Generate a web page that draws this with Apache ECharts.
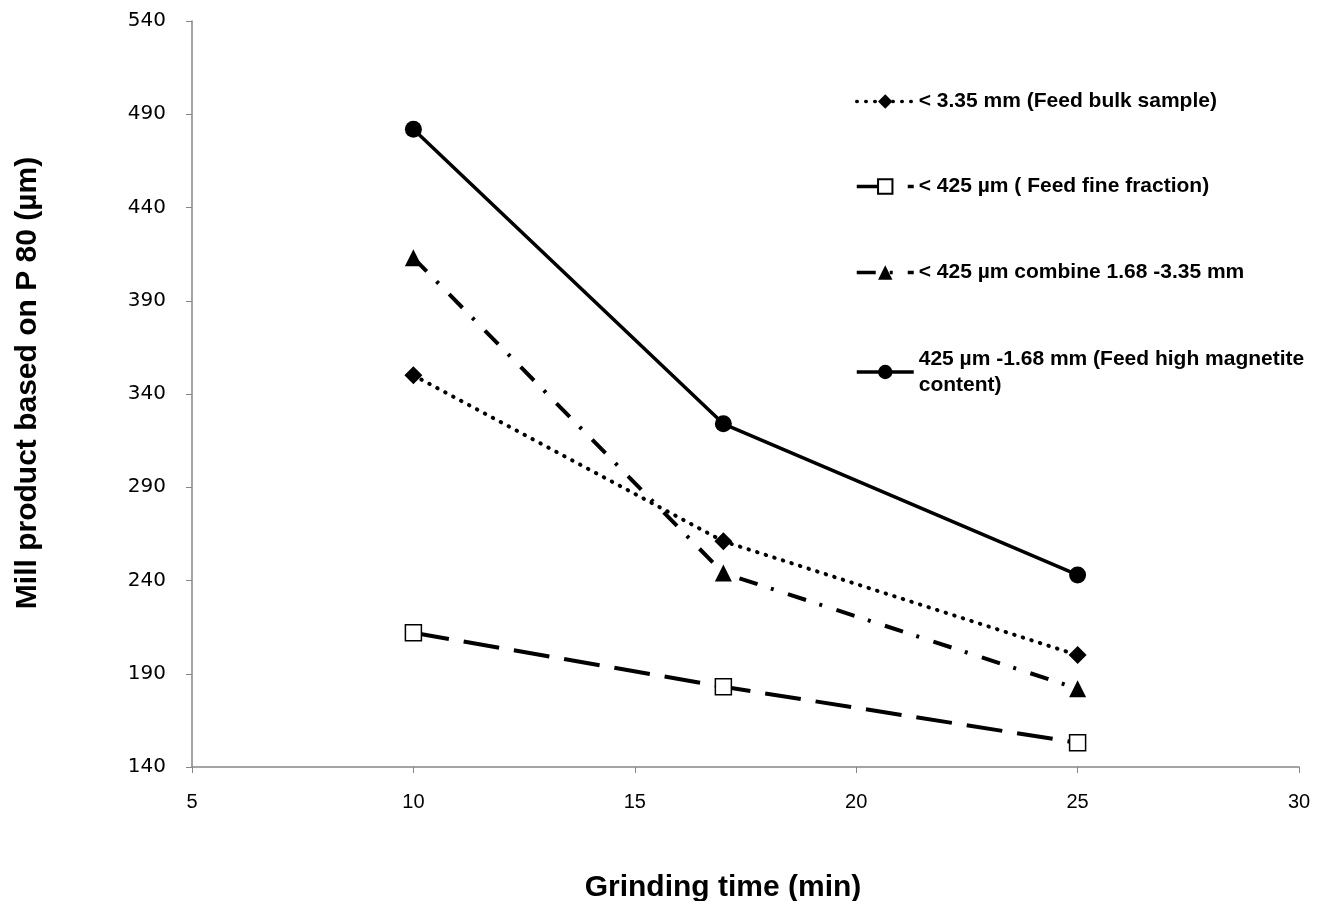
<!DOCTYPE html>
<html>
<head>
<meta charset="utf-8">
<style>
  html, body { margin: 0; padding: 0; background: #fff; }
  #main { width: 1331px; height: 901px; }
</style>
<script src="https://cdn.jsdelivr.net/npm/echarts@6/dist/echarts.min.js"></script>
</head>
<body>
<div id="main"></div>
<script>
// grinding time (min)
var times = [10, 17, 25];
// mill product P80 (µm)
var bulkSample = [350, 261, 200];
var fineFraction = [212, 183, 153];
var combined = [413, 244, 182];
var highMagnetite = [482, 324, 243];
var seriesNames = [
  '< 3.35 mm (Feed bulk sample)',
  '< 425 µm ( Feed fine fraction)',
  '< 425 µm combine 1.68 -3.35 mm',
  '425 µm -1.68 mm (Feed high magnetite content)'
];

function pairs(vals) {
  return times.map(function (t, i) { return [t, vals[i]]; });
}

var legendFont = { color: '#000', fontFamily: 'Liberation Sans', fontWeight: 'bold', fontSize: 21 };
var legendTops = [91, 176, 262, 346];

var myChart = echarts.init(document.getElementById('main'));
myChart.setOption({
  animation: false,
  backgroundColor: '#fff',
  grid: { left: 192, right: 32, top: 21, bottom: 134 },
  legend: seriesNames.map(function (name, i) {
    var l = {
      orient: 'vertical',
      left: 855,
      top: legendTops[i],
      padding: 0,
      itemWidth: 57,
      itemHeight: 18,
      selectedMode: false,
      data: [name],
      lineStyle: { width: 3.5 },
      textStyle: Object.assign({}, legendFont)
    };
    if (i === 3) {
      l.formatter = function () { return '425 µm -1.68 mm (Feed high magnetite\ncontent)'; };
      l.textStyle.lineHeight = 26;
      l.textStyle.padding = [26, 0, 0, 0];
      l.top = legendTops[i] - 13;
    }
    return l;
  }),
  graphic: [
    {
      type: 'text',
      style: {
        text: 'Grinding time (min)',
        x: 723, y: 888, align: 'center', verticalAlign: 'middle',
        font: 'bold 30px "Liberation Sans"', fill: '#000'
      }
    },
    {
      type: 'text',
      x: 28, y: 383, rotation: Math.PI / 2,
      style: {
        text: 'Mill product based on P 80 (µm)',
        x: 0, y: 0, align: 'center', verticalAlign: 'middle',
        font: 'bold 30px "Liberation Sans"', fill: '#000'
      }
    }
  ],
  xAxis: {
    type: 'value',
    min: 5, max: 30, interval: 5,
    axisLine: { lineStyle: { color: '#868686', width: 1.5 } },
    axisTick: { show: true, length: 6, lineStyle: { color: '#868686' } },
    splitLine: { show: false },
    axisLabel: { color: '#000', fontSize: 20, fontFamily: 'Liberation Sans', margin: 25 }
  },
  yAxis: {
    type: 'value',
    min: 140, max: 540, interval: 50,
    axisLine: { show: true, lineStyle: { color: '#868686', width: 1.5 } },
    axisTick: { show: true, length: 6, lineStyle: { color: '#868686' } },
    splitLine: { show: false },
    axisLabel: { color: '#000', fontSize: 20, fontFamily: 'DejaVu Sans', margin: 26 }
  },
  series: [{
    name: seriesNames[0],
    type: 'line',
    data: pairs(bulkSample),
    symbol: 'diamond',
    symbolSize: 18,
    itemStyle: { color: '#000' },
    lineStyle: { color: '#000', width: 4, type: [0.5, 8.5], cap: 'round' }
  }, {
    name: seriesNames[1],
    type: 'line',
    data: pairs(fineFraction),
    symbol: 'rect',
    symbolSize: 16,
    itemStyle: { color: '#fff', borderColor: '#000', borderWidth: 1.5 },
    lineStyle: { color: '#000', width: 4, type: [36, 15] }
  }, {
    name: seriesNames[2],
    type: 'line',
    data: pairs(combined),
    symbol: 'triangle',
    symbolSize: 17,
    itemStyle: { color: '#000' },
    lineStyle: { color: '#000', width: 4, type: [19, 14, 3, 15] }
  }, {
    name: seriesNames[3],
    type: 'line',
    data: pairs(highMagnetite),
    symbol: 'circle',
    symbolSize: 17,
    itemStyle: { color: '#000' },
    lineStyle: { color: '#000', width: 3.5 }
  }]
});
</script>
</body>
</html>
